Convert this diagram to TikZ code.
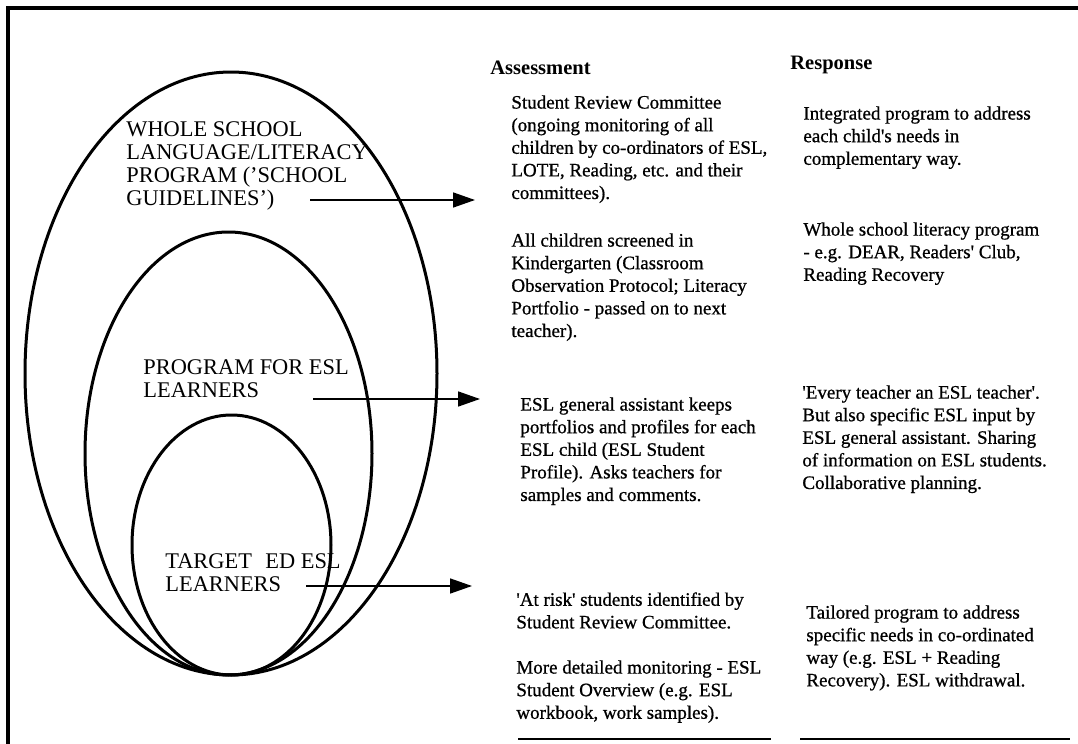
\documentclass[tikz,border=0pt]{standalone}
\usepackage{fontspec}
\setmainfont{Liberation Serif}
\newfontfamily\inkfont[FakeBold=0.8]{Liberation Serif}
\usetikzlibrary{arrows.meta}
\begin{document}
\begin{tikzpicture}[x=0.5pt,y=-0.5pt,
    ring/.style={line width=1.5pt},
    ringtext/.style={anchor=north west, inner sep=0pt, align=left, font=\fontsize{11.2}{11.5}\selectfont},
    cell/.style={anchor=north west, inner sep=0pt, align=left, font=\inkfont\fontsize{9.5}{11.3}\selectfont},
    colhead/.style={anchor=west, inner sep=0pt, font=\fontsize{10.25}{12}\selectfont\bfseries},
    pointer/.style={line width=0.8pt, -{Triangle[length=11pt,width=7.5pt]}}]
  \useasboundingbox (0,0) rectangle (1078,744);
  \draw[line width=1.9pt] (1078,8) -- (8,8) -- (8,744);

  \draw[ring] (231,373.5) ellipse [x radius=206, y radius=301.5];
  \draw[ring] (228.5,453.5) ellipse [x radius=143.5, y radius=221.5];
  \draw[ring] (231.5,545) ellipse [x radius=99.5, y radius=130];

  \node[ringtext] (whole) at (126,121) {WHOLE SCHOOL\\LANGUAGE/LITERACY\\PROGRAM ('SCHOOL\\GUIDELINES')};
  \node[ringtext] (eslprog) at (143,359) {PROGRAM FOR ESL\\LEARNERS};
  \node[ringtext] (target) at (165,553) {TARGET\hspace{0.6em}ED ESL\\LEARNERS};

  \node[colhead] (assess) at (490,68) {Assessment};
  \node[colhead] (resp) at (790,65) {Response};

  \node[cell] (a1) at (511,95) {Student Review Committee\\(ongoing monitoring of all\\children by co-ordinators of ESL,\\LOTE, Reading, etc. and their\\committees).};
  \node[cell] (a2) at (511,233) {All children screened in\\Kindergarten (Classroom\\Observation Protocol; Literacy\\Portfolio - passed on to next\\teacher).};
  \node[cell] (a3) at (520,397) {ESL general assistant keeps\\portfolios and profiles for each\\ESL child (ESL Student\\Profile). Asks teachers for\\samples and comments.};
  \node[cell] (a4) at (516,592) {'At risk' students identified by\\Student Review Committee.};
  \node[cell] (a5) at (516,660) {More detailed monitoring - ESL\\Student Overview (e.g. ESL\\workbook, work samples).};

  \node[cell] (r1) at (803,106) {Integrated program to address\\each child's needs in\\complementary way.};
  \node[cell] (r2) at (803,222) {Whole school literacy program\\- e.g. DEAR, Readers' Club,\\Reading Recovery};
  \node[cell] (r3) at (802,385) {'Every teacher an ESL teacher'.\\But also specific ESL input by\\ESL general assistant. Sharing\\of information on ESL students.\\Collaborative planning.};
  \node[cell] (r4) at (806,605) {Tailored program to address\\specific needs in co-ordinated\\way (e.g. ESL + Reading\\Recovery). ESL withdrawal.};

  \coordinate (w0) at (310,200);
  \coordinate (w1) at (475,200);
  \coordinate (e0) at (313,399);
  \coordinate (e1) at (480,399);
  \coordinate (t0) at (306,586);
  \coordinate (t1) at (472,586);
  \draw[pointer] (w0) -- (w1);
  \draw[pointer] (e0) -- (e1);
  \draw[pointer] (t0) -- (t1);

  \coordinate (ra0) at (518,739);
  \coordinate (ra1) at (771,739);
  \coordinate (rr0) at (800,739);
  \coordinate (rr1) at (1070,739);
  \draw[line width=1pt] (ra0) -- (ra1);
  \draw[line width=1pt] (rr0) -- (rr1);
\end{tikzpicture}
\end{document}
